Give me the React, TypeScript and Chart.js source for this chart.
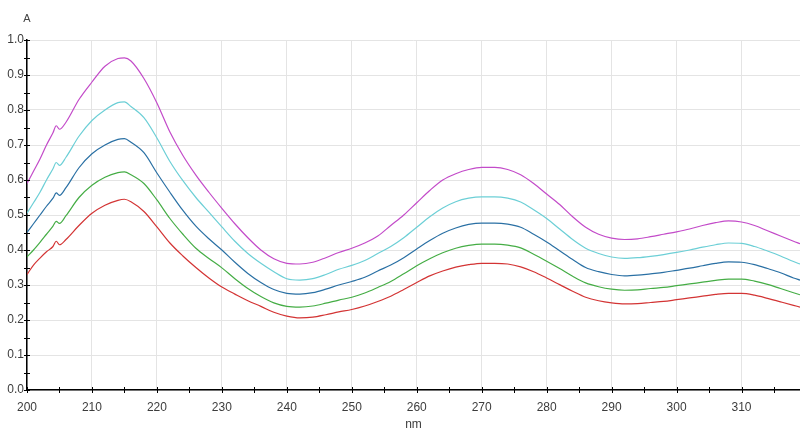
import React, { useEffect, useRef } from "react";
import { Chart, registerables } from "chart.js";

Chart.register(...registerables);

const wavelengths = [
  200, 201, 202, 203, 204, 204.5, 205, 206, 208, 210, 212, 214, 215, 216, 218, 220, 222, 224, 226, 228,
  230, 232, 234, 236, 238, 240, 242, 244, 246, 248, 250, 252, 254, 256, 258, 260, 262, 264, 266, 268,
  270, 272, 274, 276, 278, 280, 282, 284, 286, 288, 290, 292, 294, 296, 298, 300, 302, 304, 306, 308,
  310, 312, 314, 316, 318, 319,
];

const magenta = [
  0.59, 0.625, 0.66, 0.70, 0.735, 0.755, 0.745, 0.765, 0.83, 0.88, 0.925, 0.947, 0.949, 0.94, 0.89, 0.82, 0.737, 0.67, 0.614, 0.565,
  0.519, 0.475, 0.435, 0.40, 0.375, 0.362, 0.36, 0.365, 0.378, 0.393, 0.405, 0.42, 0.44, 0.47, 0.50, 0.535, 0.57, 0.60, 0.618, 0.63,
  0.636, 0.636, 0.63, 0.615, 0.59, 0.56, 0.53, 0.495, 0.465, 0.445, 0.434, 0.43, 0.432, 0.438, 0.445, 0.452, 0.46, 0.47, 0.478, 0.483,
  0.48, 0.47, 0.455, 0.44, 0.425, 0.418,
];

const cyan = [
  0.505, 0.535, 0.565, 0.60, 0.632, 0.65, 0.642, 0.665, 0.725, 0.77, 0.80, 0.821, 0.823, 0.81, 0.778, 0.72, 0.653, 0.598, 0.55, 0.508,
  0.466, 0.425, 0.39, 0.362, 0.338, 0.318, 0.314, 0.318, 0.33, 0.345, 0.356, 0.37, 0.39, 0.41, 0.435, 0.465, 0.495, 0.52, 0.538, 0.548,
  0.552, 0.552, 0.548, 0.537, 0.515, 0.49, 0.46, 0.43, 0.405, 0.39, 0.38, 0.376, 0.378, 0.382, 0.387, 0.393, 0.40, 0.408, 0.415, 0.42,
  0.419, 0.41, 0.397, 0.383, 0.367, 0.36,
];

const blue = [
  0.45, 0.475, 0.50, 0.525, 0.548, 0.563, 0.556, 0.578, 0.635, 0.675, 0.70, 0.716, 0.718, 0.708, 0.678, 0.62, 0.565, 0.513, 0.468, 0.432,
  0.40, 0.365, 0.333, 0.307, 0.287, 0.276, 0.274, 0.278, 0.288, 0.30, 0.31, 0.322, 0.34, 0.357, 0.378, 0.403, 0.427, 0.448, 0.463, 0.473,
  0.477, 0.477, 0.474, 0.465, 0.445, 0.423, 0.398, 0.373, 0.35, 0.338, 0.33, 0.326, 0.328, 0.332, 0.336, 0.342, 0.348, 0.355, 0.362, 0.366,
  0.365, 0.358, 0.347, 0.335, 0.32, 0.314,
];

const green = [
  0.38, 0.40, 0.422, 0.445, 0.468, 0.482, 0.476, 0.498, 0.55, 0.585, 0.608, 0.621, 0.623, 0.615, 0.59, 0.543, 0.49, 0.445, 0.405, 0.376,
  0.349, 0.318, 0.29, 0.267, 0.249, 0.239, 0.237, 0.24, 0.248, 0.257, 0.265, 0.277, 0.293, 0.31, 0.332, 0.355, 0.375, 0.392, 0.405, 0.413,
  0.417, 0.417, 0.414, 0.406, 0.388, 0.368, 0.347, 0.325, 0.306, 0.295, 0.288, 0.285, 0.286, 0.29, 0.293, 0.298, 0.303, 0.308, 0.313, 0.317,
  0.317, 0.311, 0.302, 0.29, 0.278, 0.272,
];

const red = [
  0.33, 0.357, 0.377, 0.395, 0.41, 0.425, 0.415, 0.43, 0.47, 0.505, 0.528, 0.542, 0.545, 0.538, 0.51, 0.466, 0.42, 0.383, 0.35, 0.32,
  0.294, 0.274, 0.255, 0.239, 0.222, 0.211, 0.206, 0.208, 0.215, 0.223, 0.23, 0.24, 0.253, 0.268, 0.287, 0.307, 0.326, 0.34, 0.351, 0.358,
  0.362, 0.362, 0.36, 0.352, 0.338, 0.32, 0.301, 0.282, 0.265, 0.255, 0.249, 0.246, 0.247, 0.25, 0.253, 0.258, 0.263, 0.268, 0.273, 0.276,
  0.276, 0.271, 0.262, 0.252, 0.242, 0.237,
];

const xTickValues = [200, 210, 220, 230, 240, 250, 260, 270, 280, 290, 300, 310];
const xMinorTickValues = [200, 205, 210, 215, 220, 225, 230, 235, 240, 245, 250, 255, 260, 265, 270, 275, 280, 285, 290, 295, 300, 305, 310, 315];
const yTickLabels = ["0.0", "0.1", "0.2", "0.3", "0.4", "0.5", "0.6", "0.7", "0.8", "0.9", "1.0"];
const yMinorTickValues = [0, 0.05, 0.1, 0.15, 0.2, 0.25, 0.3, 0.35, 0.4, 0.45, 0.5, 0.55, 0.6, 0.65, 0.7, 0.75, 0.8, 0.85, 0.9, 0.95, 1.0];

const seriesList = [
  { name: "s1", values: magenta, color: "#c34bc9" },
  { name: "s2", values: cyan, color: "#6ccfd6" },
  { name: "s3", values: blue, color: "#2a70a4" },
  { name: "s4", values: green, color: "#45ad45" },
  { name: "s5", values: red, color: "#d33434" },
];

const FONT = '"Liberation Sans", Arial, sans-serif';

const axisDecor = {
  id: "axisDecor",
  afterDraw(chart: any) {
    const { ctx, chartArea, scales } = chart;
    const xs = scales.x;
    const ys = scales.y;
    ctx.save();
    ctx.strokeStyle = "#000";
    ctx.lineWidth = 1;
    ctx.beginPath();
    for (const v of xMinorTickValues) {
      const px = Math.round(xs.getPixelForValue(v)) + 0.5;
      ctx.moveTo(px, chartArea.bottom - 3);
      ctx.lineTo(px, chartArea.bottom + 3);
    }
    for (const v of yMinorTickValues) {
      const py = Math.round(ys.getPixelForValue(v)) + 0.5;
      ctx.moveTo(chartArea.left - 3, py);
      ctx.lineTo(chartArea.left + 3, py);
    }
    ctx.stroke();
    ctx.fillStyle = "#444";
    ctx.font = `11px ${FONT}`;
    ctx.textAlign = "center";
    ctx.textBaseline = "middle";
    ctx.fillText("A", chartArea.left, chartArea.top - 21);
    ctx.restore();
  },
};

export default function App() {
  const canvasRef = useRef<HTMLCanvasElement | null>(null);

  useEffect(() => {
    if (!canvasRef.current) return;
    const chart = new Chart(canvasRef.current, {
      type: "line",
      data: {
        datasets: seriesList.map((s) => ({
          label: s.name,
          data: wavelengths.map((w, i) => ({ x: w, y: s.values[i] })),
          borderColor: s.color,
          borderWidth: 1.2,
          pointRadius: 0,
          fill: false,
          cubicInterpolationMode: "monotone" as const,
        })),
      },
      options: {
        responsive: false,
        animation: false,
        layout: { padding: { top: 40, right: 0, left: 0, bottom: 0 } },
        plugins: {
          legend: { display: false },
          tooltip: { enabled: false },
          title: { display: false },
        },
        scales: {
          x: {
            type: "linear",
            min: 200,
            max: 319,
            afterBuildTicks: (scale: any) => {
              scale.ticks = xTickValues.map((v) => ({ value: v }));
            },
            afterFit: (scale: any) => {
              scale.height = 42;
            },
            ticks: {
              autoSkip: false,
              maxRotation: 0,
              padding: 10,
              color: "#3c3c3c",
              font: { family: FONT, size: 12 },
              callback: (v: any) => String(v),
            },
            grid: { color: "#e4e4e4", lineWidth: 1, drawTicks: false },
            border: { display: true, color: "#000", width: 1.5 },
            title: {
              display: true,
              text: "nm",
              color: "#3c3c3c",
              font: { family: FONT, size: 12 },
              padding: { top: 0, bottom: 0 },
            },
          },
          y: {
            type: "linear",
            min: 0,
            max: 1,
            afterBuildTicks: (scale: any) => {
              scale.ticks = yTickLabels.map((t) => ({ value: parseFloat(t) }));
            },
            afterFit: (scale: any) => {
              scale.width = 27;
            },
            ticks: {
              autoSkip: false,
              padding: 3,
              color: "#3c3c3c",
              font: { family: FONT, size: 12 },
              callback: (v: any) => yTickLabels[Math.round(Number(v) * 10)] ?? "",
            },
            grid: { color: "#e4e4e4", lineWidth: 1, drawTicks: false },
            border: { display: true, color: "#000", width: 1.5 },
          },
        },
      },
      plugins: [axisDecor],
    });
    return () => chart.destroy();
  }, []);

  return (
    <div style={{ position: "fixed", left: 0, top: 0, width: 800, height: 432, background: "#fff" }}>
      <canvas ref={canvasRef} width={800} height={432} style={{ display: "block", width: 800, height: 432 }} />
    </div>
  );
}
